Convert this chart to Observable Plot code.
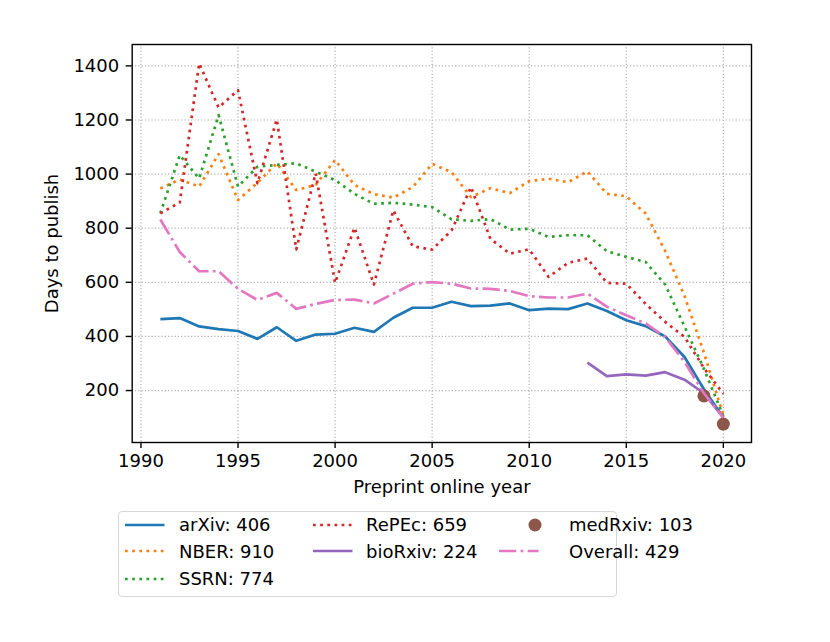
<!DOCTYPE html>
<html>
<head>
<meta charset="utf-8">
<script src="https://cdn.jsdelivr.net/npm/d3@7"></script>
<script src="https://cdn.jsdelivr.net/npm/@observablehq/plot@0.6"></script>
<style>
  body { margin: 0; background: #fff; font-family: "DejaVu Sans", sans-serif; }
  #wrap { position: relative; width: 830px; height: 642px; overflow: hidden; }
  #chart { position: absolute; left: 0; top: 0; }
  #legend { position: absolute; left: 118px; top: 511px; width: 499px; height: 86px; box-sizing: border-box;
            border: 1.4px solid #d6d6d6; border-radius: 4px; background: #fff; }
  .item { position: absolute; height: 24px; display: flex; align-items: center; font-size: 18px; color: #000; white-space: nowrap; }
  .item svg { display: block; }
</style>
</head>
<body>
<div id="wrap"><div id="chart"></div><div id="legend"></div></div>
<script>
// ---- data ----
const years = [1991,1992,1993,1994,1995,1996,1997,1998,1999,2000,2001,2002,2003,2004,2005,2006,2007,2008,2009,2010,2011,2012,2013,2014,2015,2016,2017,2018,2019,2020];
const arxiv   = [464,468,437,427,420,391,434,384,407,410,432,417,469,506,506,528,512,514,522,497,503,501,522,494,460,438,400,324,205,100];
const nber    = [947,980,954,1074,904,968,1040,941,960,1052,960,926,913,952,1038,1007,915,948,930,974,983,970,1010,927,918,854,716,550,340,108];
const ssrn    = [855,1070,984,1218,954,1027,1034,1040,1009,978,927,890,894,887,878,833,827,834,795,798,768,774,774,715,694,675,592,437,280,105];
const repec   = [855,895,1409,1246,1310,966,1202,722,1003,598,802,592,866,733,721,792,952,761,706,722,620,672,688,598,595,520,454,398,283,188];
const overall = [832,712,641,641,576,535,561,502,520,535,536,522,558,595,601,595,577,576,568,549,544,544,558,510,478,448,398,306,190,100];
const biorxivYears = [2013,2014,2015,2016,2017,2018,2019,2020];
const biorxiv = [303,253,260,255,268,240,190,100];
const medrxivYears = [2019,2020];
const medrxiv = [180,76];

const seriesNames = ["arXiv","NBER","SSRN","RePEc","bioRxiv","medRxiv","Overall"];
const legendMeans = [406,910,774,659,224,103,429];
const colors = ["#1f77b4","#ff7f0e","#2ca02c","#d62728","#9467bd","#8c564b","#e377c2"];

const xTicks = [1990,1995,2000,2005,2010,2015,2020];
const yTicks = [200,400,600,800,1000,1200,1400];

// ---- build tables ----
const zip = (xs, vs) => xs.map((x, i) => ({year: x, value: vs[i]}));
const tables = {
  arXiv: zip(years, arxiv),
  NBER: zip(years, nber),
  SSRN: zip(years, ssrn),
  RePEc: zip(years, repec),
  bioRxiv: zip(biorxivYears, biorxiv),
  medRxiv: zip(medrxivYears, medrxiv),
  Overall: zip(years, overall)
};

const LW = 2.7;
const dotted = `${LW},${(LW*1.65).toFixed(2)}`;
const dashdot = `${(LW*6.4).toFixed(2)},${(LW*1.6).toFixed(2)},${LW},${(LW*1.6).toFixed(2)}`;
const styles = {
  arXiv:   {dash: null, cap: "butt"},
  NBER:    {dash: dotted, cap: "butt"},
  SSRN:    {dash: dotted, cap: "butt"},
  RePEc:   {dash: dotted, cap: "butt"},
  bioRxiv: {dash: null, cap: "butt"},
  Overall: {dash: dashdot, cap: "butt"}
};

const lineMark = (name) => Plot.line(tables[name], {
  x: "year", y: "value",
  stroke: colors[seriesNames.indexOf(name)],
  strokeWidth: LW,
  strokeDasharray: styles[name].dash,
  strokeLinecap: styles[name].cap,
  strokeLinejoin: "round"
});

const chart = Plot.plot({
  width: 830,
  height: 505,
  marginTop: 44,
  marginLeft: 131.7,
  marginRight: 79,
  marginBottom: 63,
  style: {fontFamily: "DejaVu Sans, sans-serif", fontSize: "18px", color: "#000", background: "#fff"},
  x: {domain: [1989.55, 2021.45]},
  y: {domain: [8, 1479]},
  marks: [
    Plot.gridX(xTicks, {stroke: "#b0b0b0", strokeOpacity: 1, strokeWidth: 1.2, strokeDasharray: "1.2,2.1"}),
    Plot.gridY(yTicks, {stroke: "#b0b0b0", strokeOpacity: 1, strokeWidth: 1.2, strokeDasharray: "1.2,2.1"}),
    lineMark("arXiv"),
    lineMark("NBER"),
    lineMark("SSRN"),
    lineMark("RePEc"),
    lineMark("bioRxiv"),
    Plot.dot(tables.medRxiv, {x: "year", y: "value", r: 6.5, fill: colors[5], stroke: "none"}),
    lineMark("Overall"),
    Plot.frame({stroke: "#000", strokeWidth: 1.4}),
    Plot.axisX(xTicks, {tickSize: 6, tickPadding: 6, strokeWidth: 1.4, fontSize: 18, tickFormat: d => String(d),
      label: "Preprint online year", labelAnchor: "center", labelArrow: "none", labelOffset: 50}),
    Plot.axisY(yTicks, {tickSize: 6, tickPadding: 7, strokeWidth: 1.4, fontSize: 18, tickFormat: d => String(d),
      label: "Days to publish", labelAnchor: "center", labelArrow: "none", labelOffset: 87})
  ]
});
document.getElementById("chart").appendChild(chart);

// ---- legend ----
const legend = document.getElementById("legend");
const rowTops = [14, 40.7, 68];
const cols = [{h: 6, t: 60}, {h: 193.5, t: 247}, {h: 380, t: 450}];
const layout = [[0,0],[0,1],[0,2],[1,0],[1,1],[2,0],[2,1]];
seriesNames.forEach((name, i) => {
  const [c, r] = layout[i];
  const hx = cols[c].h, tx = cols[c].t;
  const top = rowTops[r] - 12 - 1.4;
  const hd = document.createElement("div");
  hd.className = "item";
  hd.style.left = hx + "px"; hd.style.top = top + "px";
  let svg;
  if (name === "medRxiv") {
    svg = `<svg width="72" height="24"><circle cx="36" cy="12" r="6.5" fill="${colors[i]}"/></svg>`;
  } else {
    const st = styles[name];
    svg = `<svg width="40" height="24"><line x1="0" y1="12" x2="39.5" y2="12" stroke="${colors[i]}" stroke-width="${LW}" ${st.dash ? `stroke-dasharray="${st.dash}"` : ""} stroke-linecap="butt"/></svg>`;
  }
  hd.innerHTML = svg;
  legend.appendChild(hd);
  const tdv = document.createElement("div");
  tdv.className = "item";
  tdv.style.left = tx + "px"; tdv.style.top = top + "px";
  tdv.textContent = `${name}: ${legendMeans[i]}`;
  legend.appendChild(tdv);
});
</script>
</body>
</html>
